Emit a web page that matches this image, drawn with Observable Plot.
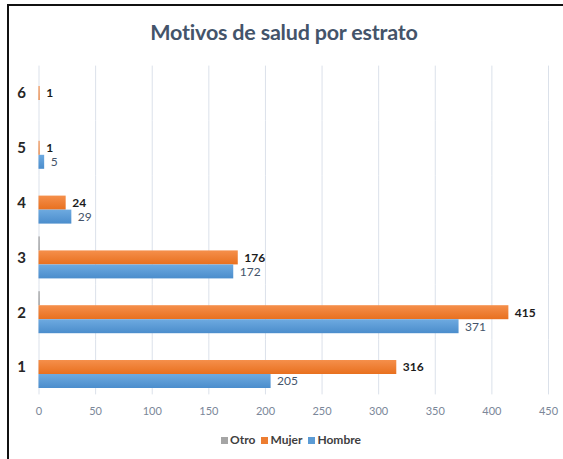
<!DOCTYPE html>
<html><head><meta charset="utf-8">
<script src="https://cdn.jsdelivr.net/npm/d3@7"></script>
<script src="https://cdn.jsdelivr.net/npm/@observablehq/plot@0.6"></script>
<style>
body{margin:0;background:#fff;}
#wrap{position:relative;width:563px;height:459px;overflow:hidden;font-family:Lato,"Open Sans",sans-serif;background:#fff;}
#frame{position:absolute;left:7px;top:4px;width:600px;height:500px;border-top:2px solid #111;border-left:2px solid #111;}
#title{position:absolute;left:8px;width:552px;top:19px;text-align:center;font-weight:bold;font-size:21.5px;letter-spacing:-0.2px;color:#44546a;}
#chart{position:absolute;left:0;top:0;}
#legend{position:absolute;left:8px;width:566px;top:432px;text-align:center;font-weight:bold;font-size:12px;color:#404040;}
#legend span.sw{display:inline-block;width:7px;height:7px;margin-right:2px;vertical-align:0px;}
#legend span.it{margin:0 3px;}
</style></head>
<body>
<div id="wrap">
  <div id="frame"></div>
  <div id="title">Motivos de salud por estrato</div>
  <div id="chart"></div>
  <div id="legend"></div>
</div>
<script>
const strata = [1, 2, 3, 4, 5, 6];
const series = ["Otro", "Mujer", "Hombre"];
const hombre = [205, 371, 172, 29, 5, 0];
const mujer = [316, 415, 176, 24, 1, 1];
const otro = [0, 1, 1, 0, 0, 0];
const xTicks = [0, 50, 100, 150, 200, 250, 300, 350, 400, 450];
const colors = ["#a5a5a5", "#ed7d31", "#5b9bd5"];
const gradIds = ["gOtro", "gMujer", "gHombre"];

const rows = [];
strata.forEach((s, i) => {
  rows.push({stratum: s, series: "Otro", value: otro[i]});
  rows.push({stratum: s, series: "Mujer", value: mujer[i]});
  rows.push({stratum: s, series: "Hombre", value: hombre[i]});
});
const bars = rows.filter(d => d.value > 0);

const chart = Plot.plot({
  width: 563,
  height: 425,
  marginTop: 65.6,
  marginBottom: 30.6,
  marginLeft: 38.5,
  marginRight: 15,
  style: {fontFamily: "Lato, 'Open Sans', sans-serif", background: "transparent"},
  x: {domain: [0, 450]},
  fy: {domain: [6, 5, 4, 3, 2, 1], padding: 0, round: false, label: null},
  y: {domain: series, paddingInner: 0, paddingOuter: 0.457, round: false, axis: null},
  color: {domain: series, range: gradIds.map(id => `url(#${id})`)},
  marks: [
    Plot.gridX({ticks: xTicks, stroke: "#dbe1ea", strokeOpacity: 1, strokeWidth: 1}),
    Plot.axisX({ticks: xTicks, tickSize: 0, tickPadding: 12, fontSize: 11, color: "#7b8799", label: null}),
    Plot.axisFy({anchor: "left", tickSize: 0, tickPadding: 13, fontSize: 15, fontWeight: "bold", color: "#262626", label: null}),
    Plot.barX(bars, {x: "value", y: "series", fy: "stratum", fill: "series"}),
    Plot.text(bars.filter(d => d.series === "Mujer"), {x: "value", y: "series", fy: "stratum", text: d => String(d.value), dx: 6, textAnchor: "start", fontSize: 12, fontWeight: "bold", fill: "#1c1c1c"}),
    Plot.text(bars.filter(d => d.series === "Hombre"), {x: "value", y: "series", fy: "stratum", text: d => String(d.value), dx: 6, textAnchor: "start", fontSize: 12, fill: "#44546a"})
  ]
});

// gradients for bar fills
const svg = d3.select(chart);
const defs = svg.insert("defs", ":first-child");
const stops = [["#9a9a9a", "#8a8a8a"], ["#f58f4b", "#e8701f"], ["#6eaae0", "#4b8dcc"]];
gradIds.forEach((id, i) => {
  const g = defs.append("linearGradient").attr("id", id).attr("x1", 0).attr("y1", 0).attr("x2", 0).attr("y2", 1);
  g.append("stop").attr("offset", "0%").attr("stop-color", stops[i][0]);
  g.append("stop").attr("offset", "100%").attr("stop-color", stops[i][1]);
});
document.getElementById("chart").appendChild(chart);

const legend = document.getElementById("legend");
series.forEach((s, i) => {
  const it = document.createElement("span");
  it.className = "it";
  it.innerHTML = `<span class="sw" style="background:${colors[i]}"></span>${s}`;
  legend.appendChild(it);
});
</script>
</body></html>
